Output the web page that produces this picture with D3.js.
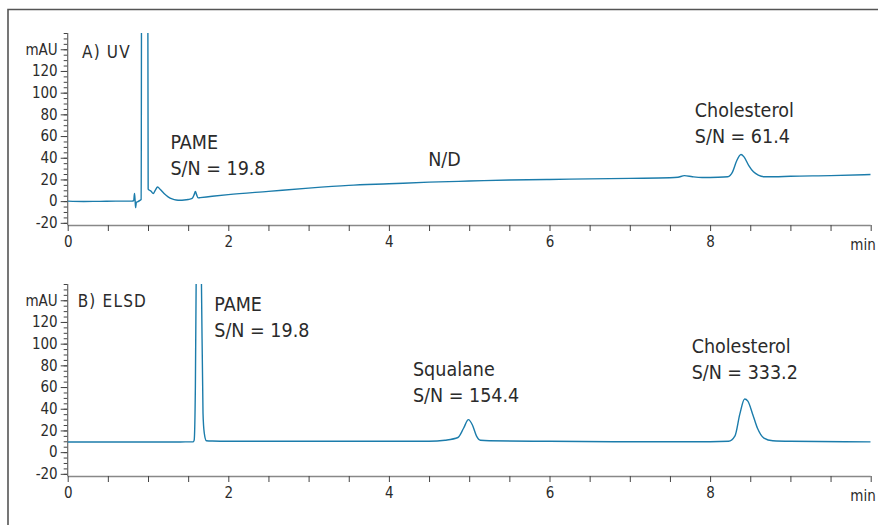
<!DOCTYPE html>
<html>
<head>
<meta charset="utf-8">
<script src="https://cdn.jsdelivr.net/npm/d3@7"></script>
<style>
  html, body { margin: 0; padding: 0; background: #fff; }
  svg { display: block; }
  text { font-family: "DejaVu Sans Condensed", "Liberation Sans Narrow", sans-serif; fill: #2b2b2b; }
</style>
</head>
<body>
<svg id="chart" width="878" height="525"></svg>
<script>
// ---------- DATA ----------
const uvTime = [0.00,0.20,0.40,0.60,0.80,0.822,0.832,0.840,0.846,0.855,0.875,0.905,0.915,0.922,0.995,1.002,1.02,1.04,1.065,1.09,1.12,1.15,1.20,1.25,1.30,1.35,1.40,1.45,1.50,1.55,1.575,1.59,1.605,1.625,1.65,1.80,2.00,2.50,3.00,3.50,4.00,4.50,5.00,5.50,6.00,6.50,7.00,7.50,7.60,7.68,7.78,7.90,8.10,8.22,8.28,8.33,8.385,8.42,8.48,8.54,8.60,8.68,8.80,9.00,9.50,10.00];
const uvSignal = [0.0,-0.3,-0.2,0.0,0.0,0.5,7.0,0.0,-6.0,-1.0,-0.5,1.0,1.5,300,300,11,10,9,7,10,13,11,7,4,2,1,0.8,1,1.5,2.5,6,9,6,3,3.2,4.5,6,9,12,14.5,16,17.5,18.5,19.5,20,20.5,21,21.5,22,23.5,22.5,21.8,22,22.5,27,37,43,41,33,27,24,22.5,22.5,23,23.5,24.5];

const elsdTime = [0.00,0.50,1.00,1.40,1.565,1.575,1.59,1.60,1.63,1.665,1.685,1.70,1.727,1.80,2.00,3.00,4.00,4.50,4.70,4.86,4.93,4.99,5.04,5.09,5.14,5.25,6.00,7.00,8.00,8.23,8.31,8.37,8.43,8.47,8.53,8.59,8.67,8.78,9.00,10.00];
const elsdSignal = [9.3,9.3,9.4,9.4,9.5,11,60,160,260,160,36,18,10.5,10.2,10,10,10,10,11,13.5,22,30,25,15,11,10.5,10,9.6,9.6,10,15,35,49,47,35,22,13,10.5,10,9.5];

const xTickValues = [0,2,4,6,8];
const xTickLabels = ["0","2","4","6","8"];
const xUnitLabel = "min";
const yTickValues = [-20,0,20,40,60,80,100,120,140];
const yTickLabels = ["-20","0","20","40","60","80","100","120","mAU"];
const panelTitles = ["A) UV","B) ELSD"];
const uvAnnotations = [["PAME","S/N = 19.8"],["N/D"],["Cholesterol","S/N = 61.4"]];
const elsdAnnotations = [["PAME","S/N = 19.8"],["Squalane","S/N = 154.4"],["Cholesterol","S/N = 333.2"]];

// ---------- LAYOUT ----------
const svg = d3.select("#chart");
const lineColor = "#1b7cab";
const fontFam = '"DejaVu Sans Condensed","Liberation Sans Narrow",sans-serif';
const x = d3.scaleLinear().domain([0,10]).range([67.7,870.7]);
const yDomain = [-22,155];

// frame
svg.append("path").attr("d","M8,525V9.5H878").attr("fill","none").attr("stroke","#555").attr("stroke-width",1.6);

function panel(top, bottom, times, values, title, titlePos, annotations, annPos, clipId) {
  const y = d3.scaleLinear().domain(yDomain).range([bottom, top]);
  const g = svg.append("g");

  g.append("clipPath").attr("id", clipId).append("rect")
    .attr("x", x(0)).attr("y", top).attr("width", x(10)-x(0)).attr("height", bottom-top);

  // y axis: minor ticks
  const minor = d3.range(-20, 156, 5);
  const yAxisMinor = d3.axisLeft(y).tickValues(minor).tickSize(4).tickFormat("");
  const ya = g.append("g").attr("transform", `translate(${x(0)},0)`).call(yAxisMinor);
  ya.select(".domain").remove();
  ya.selectAll("line").attr("stroke","#444").attr("stroke-width",1);

  const yAxisMajor = d3.axisLeft(y).tickValues(yTickValues).tickSize(7).tickPadding(3)
      .tickFormat((d,i) => yTickLabels[i]);
  const yb = g.append("g").attr("transform", `translate(${x(0)},0)`).call(yAxisMajor);
  yb.select(".domain").remove();
  yb.selectAll("line").attr("stroke","#444").attr("stroke-width",1);
  yb.selectAll("text").attr("font-size",15).attr("fill","#2b2b2b").style("font-family",fontFam);
  g.append("line").attr("x1",x(0)).attr("x2",x(0)).attr("y1",top).attr("y2",bottom)
    .attr("stroke","#666").attr("stroke-width",1.2);

  // x axis
  const xMinor = d3.axisBottom(x).tickValues(d3.range(0, 10.01, 0.5)).tickSize(6)
      .tickFormat(d => { const i = xTickValues.indexOf(d); return i >= 0 ? xTickLabels[i] : ""; }).tickPadding(5);
  const xa = g.append("g").attr("transform", `translate(0,${bottom})`).call(xMinor);
  xa.select(".domain").attr("stroke","#888").attr("stroke-width",1.4).attr("d",`M${x(0)},0.5H${x(10)}`);
  xa.selectAll("line").attr("stroke","#444").attr("stroke-width",1);
  xa.selectAll("text").attr("font-size",15).attr("fill","#2b2b2b").style("font-family",fontFam);
  g.append("text").attr("x", x(10)+5).attr("y", bottom+25).attr("text-anchor","end")
    .attr("font-size",15).text(xUnitLabel);

  // trace
  const pts = times.map((t,i) => [t, values[i]]);
  const line = d3.line().x(d => x(d[0])).y(d => y(d[1])).curve(d3.curveMonotoneX);
  g.append("path").datum(pts).attr("d", line).attr("fill","none")
    .attr("stroke", lineColor).attr("stroke-width",1.4).attr("clip-path",`url(#${clipId})`);

  // title
  g.append("text").attr("x", x(titlePos[0])).attr("y", y(titlePos[1]))
    .attr("font-size",17).attr("letter-spacing",1.2).text(title);

  // annotations
  annotations.forEach((lines, i) => {
    const t = g.append("text").attr("x", x(annPos[i][0])).attr("y", y(annPos[i][1]))
      .attr("font-size",19.5);
    lines.forEach((s, j) => {
      t.append("tspan").attr("x", x(annPos[i][0])).attr("dy", j === 0 ? 0 : 26).text(s);
    });
  });
}

panel(33, 225, uvTime, uvSignal, panelTitles[0], [0.178,131.9], uvAnnotations,
      [[1.28,48.5],[4.49,32.4],[7.81,77.8]], "clipA");
panel(284, 476, elsdTime, elsdSignal, panelTitles[1], [0.124,133.5], elsdAnnotations,
      [[1.826,130.4],[4.30,70.2],[7.77,91.6]], "clipB");
</script>
</body>
</html>
